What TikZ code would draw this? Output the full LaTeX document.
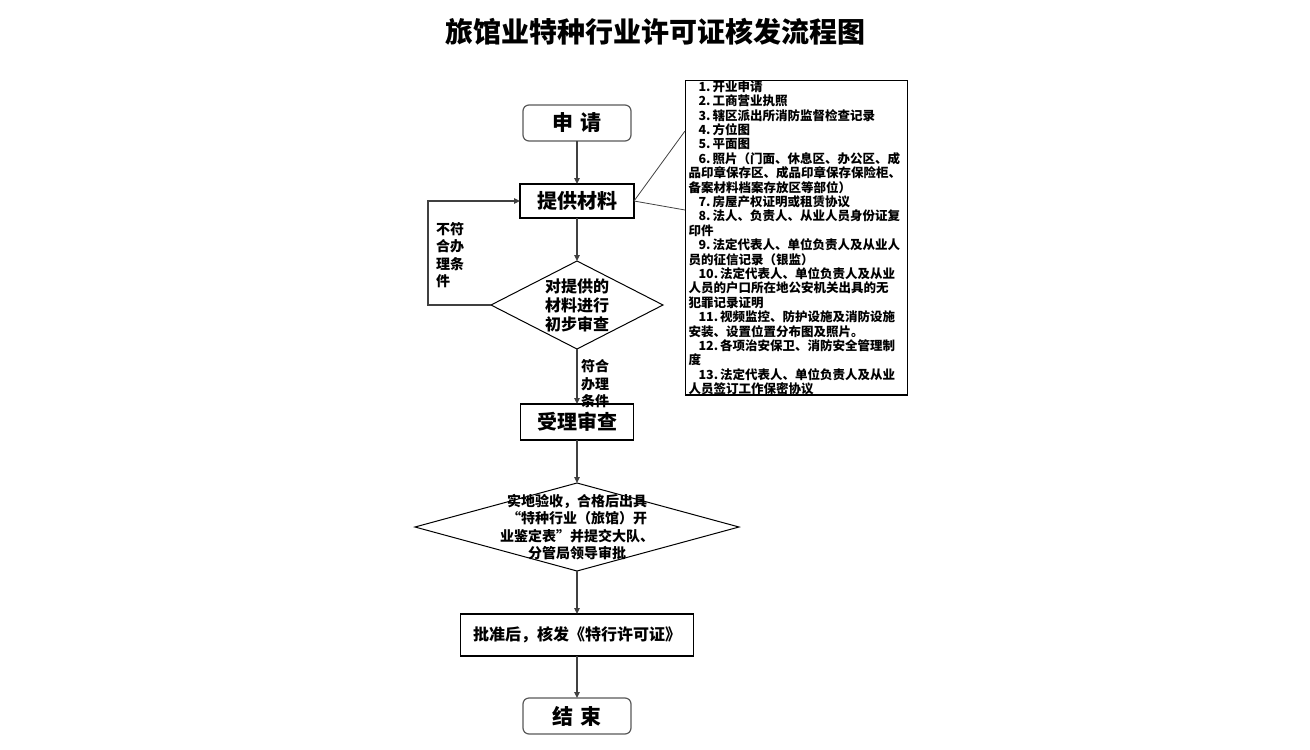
\documentclass[tikz,border=0pt]{standalone}
\usepackage{fontspec}
\setmainfont{Noto Sans CJK SC}
\usepackage{xcolor}
\definecolor{ink}{HTML}{404040}
\definecolor{edge}{HTML}{595959}
\usetikzlibrary{arrows.meta,positioning,calc,shapes.geometric}
\tikzset{
  flow/.style={-{Triangle[length=6pt,width=5.5pt]},line width=1.3pt,draw=ink},
  tie/.style={line width=0.8pt,draw=ink},
  box/.style={draw=black,line width=1.2pt,fill=white,inner sep=0pt,outer sep=0pt,align=center,
              font=\fontsize{20}{24}\selectfont\bfseries},
  term/.style={box,draw=edge,rounded corners=6pt,minimum width=108pt,minimum height=36pt,
               font=\fontsize{21}{24}\selectfont\bfseries},
  dia/.style={diamond,draw=black,line width=1pt,inner sep=0pt,outer sep=0pt},
  dtxt/.style={align=center,inner sep=0pt},
  note/.style={align=left,inner sep=0pt,font=\fontsize{14}{17.5}\selectfont\bfseries},
  list/.style={draw=black,line width=1.2pt,align=left,text width=216pt,inner xsep=3pt,
               inner ysep=0pt,font=\fontsize{12.5}{14.4}\selectfont\bfseries},
}
\newcommand{\ind}{\hspace*{10pt}}
\newcommand{\nr}[1]{#1.\hspace{2pt}}

\begin{document}
\begin{tikzpicture}[x=1pt,y=-1pt]
  \useasboundingbox (0,0) rectangle (1310,750);
  \node[font=\fontsize{28}{32}\selectfont\bfseries] (ttl) at (655,32) {旅馆业特种行业许可证核发流程图};

  \node[term] (req) at (577,123) {申\hspace{0.35em}请};
  \node[box,minimum width=114pt,minimum height=34pt,below=43pt of req] (mat) {提供材料};
  \node[dia,minimum width=172pt,minimum height=88pt,below=43pt of mat] (chk) {};
  \node[dtxt,font=\fontsize{16}{19}\selectfont\bfseries] (chkt) at (chk) {对提供的\\材料进行\\初步审查};
  \node[box,minimum width=113pt,minimum height=36pt,below=55pt of chk] (rev) {受理审查};
  \node[dia,minimum width=324pt,minimum height=88pt,below=43pt of rev] (ins) {};
  \node[dtxt,font=\fontsize{14}{17.3}\selectfont\bfseries] (inst) at (ins)
    {实地验收，合格后出具\\“特种行业（旅馆）开\\业鉴定表”并提交大队、\\分管局领导审批};
  \node[box,minimum width=233pt,minimum height=42pt,below=43pt of ins,
        font=\fontsize{16}{20}\selectfont\bfseries] (iss) {批准后，核发《特行许可证》};
  \node[term,below=42pt of iss] (fin) {结\hspace{0.35em}束};

  % list of documents
  \node[list,anchor=north west] (lst) at (685,80) {%
    \ind\nr{1}开业申请\\
    \ind\nr{2}工商营业执照\\
    \ind\nr{3}辖区派出所消防监督检查记录\\
    \ind\nr{4}方位图\\
    \ind\nr{5}平面图\\
    \ind\nr{6}照片（门面、休息区、办公区、成\\
    品印章保存区、成品印章保存保险柜、\\
    备案材料档案存放区等部位）\\
    \ind\nr{7}房屋产权证明或租赁协议\\
    \ind\nr{8}法人、负责人、从业人员身份证复\\
    印件\\
    \ind\nr{9}法定代表人、单位负责人及从业人\\
    员的征信记录（银监）\\
    \ind\nr{10}法定代表人、单位负责人及从业\\
    人员的户口所在地公安机关出具的无\\
    犯罪记录证明\\
    \ind\nr{11}视频监控、防护设施及消防设施\\
    安装、设置位置分布图及照片。\\
    \ind\nr{12}各项治安保卫、消防安全管理制\\
    度\\
    \ind\nr{13}法定代表人、单位负责人及从业\\
    人员签订工作保密协议};
  \coordinate (c1) at ($(lst.north west)+(0,51)$);
  \coordinate (c2) at ($(lst.north west)+(0,130)$);
  \draw[tie] (mat.east) -- (c1);
  \draw[tie] (mat.east) -- (c2);

  \draw[flow] (req) -- (mat);
  \draw[flow] (mat) -- (chk);
  \draw[flow] (chk) -- (rev);
  \draw[flow] (rev) -- (ins);
  \draw[flow] (ins) -- (iss);
  \draw[flow] (iss) -- (fin);
  \draw[flow] (chk.west) -- ++(-63,0) |- (mat.west);

  \node[note,anchor=west] (nok) at (436,255) {不符\\合办\\理条\\件};
  \node[note,anchor=west] (ok) at (581,384) {符合\\办理\\条件};
\end{tikzpicture}
\end{document}
